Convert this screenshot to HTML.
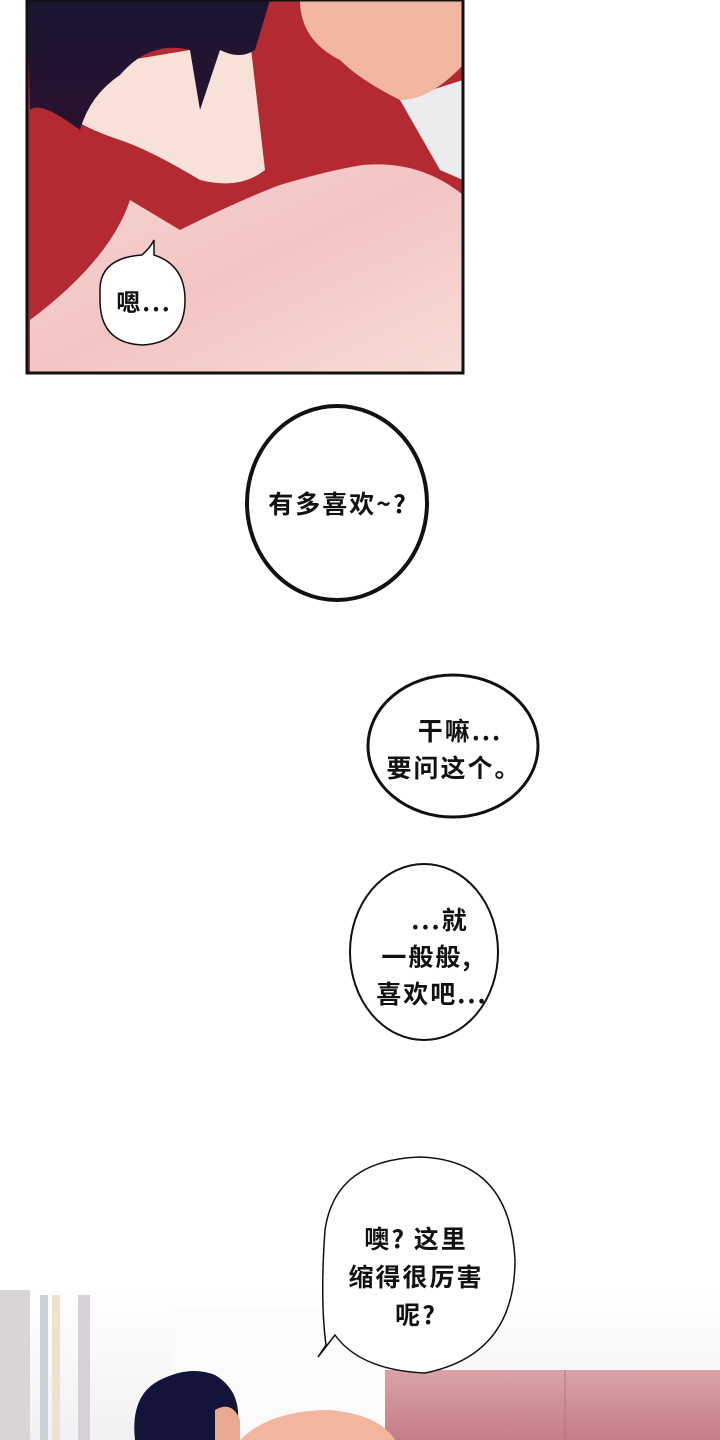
<!DOCTYPE html>
<html><head><meta charset="utf-8"><style>
body{margin:0;width:720px;height:1440px;background:#fff;overflow:hidden}
svg{display:block}
text{font-family:"Noto Sans CJK SC","Liberation Sans",sans-serif;fill:#111;font-weight:bold;letter-spacing:2px}
</style></head><body>
<svg width="720" height="1440" viewBox="0 0 720 1440">
<defs>
<linearGradient id="skin" x1="0" y1="0" x2="1" y2="1"><stop offset="0" stop-color="#f6d6d0"/><stop offset="0.5" stop-color="#f3c4c4"/><stop offset="1" stop-color="#f7dcd6"/></linearGradient>
<linearGradient id="hair" x1="0" y1="0" x2="0" y2="1"><stop offset="0" stop-color="#1a1530"/><stop offset="1" stop-color="#2a1230"/></linearGradient>
<linearGradient id="bg2" x1="0" y1="0" x2="0" y2="1"><stop offset="0" stop-color="#fff"/><stop offset="1" stop-color="#f1f0f2"/></linearGradient>
<linearGradient id="sofa" x1="0" y1="0" x2="0" y2="1"><stop offset="0" stop-color="#d9a3a8"/><stop offset="1" stop-color="#c57d87"/></linearGradient>
</defs>
<rect x="27" y="0" width="436" height="373" fill="#b42a33"/>
<path d="M400 100 L463 80 V180 L440 170 Z" fill="#ecebee"/>
<path d="M300 0 H463 V65 Q430 100 400 100 Q360 80 340 60 Q300 40 300 0 Z" fill="#f2b7a0"/>
<path d="M30 320 Q110 260 130 200 L180 230 Q240 200 280 185 Q330 170 363 165 Q420 160 463 195 V373 H30 Z" fill="url(#skin)"/>
<path d="M60 90 Q100 70 130 60 L250 40 L265 170 Q240 190 200 180 Q150 150 120 140 Q90 130 75 120 Z" fill="#f8e2d8"/>
<path d="M27 0 H270 L255 50 Q240 60 220 50 L200 110 L190 50 Q150 40 120 75 Q90 95 80 130 Q40 100 30 110 Z" fill="url(#hair)"/>
<rect x="27" y="0" width="436" height="373" fill="none" stroke="#111" stroke-width="3"/>
<path d="M100 290 Q100 258 142 255 Q150 248 154 240 L154 255 Q185 265 185 300 Q185 343 142 345 Q100 343 100 300 Z" fill="#fff" stroke="#111" stroke-width="1.5"/>
<text x="144" y="311" font-size="24" text-anchor="middle">嗯...</text>
<ellipse cx="337" cy="503" rx="90" ry="97" fill="#fff" stroke="#111" stroke-width="4"/>
<text x="338" y="513" font-size="25" text-anchor="middle">有多喜欢~?</text>
<ellipse cx="453" cy="746" rx="85" ry="71" fill="#fff" stroke="#111" stroke-width="3"/>
<text x="460" y="740" font-size="25" text-anchor="middle">干嘛...</text>
<text x="454" y="777" font-size="25" text-anchor="middle">要问这个。</text>
<ellipse cx="424" cy="952" rx="74" ry="88" fill="#fff" stroke="#111" stroke-width="2"/>
<text x="440" y="929" font-size="25" text-anchor="middle">...就</text>
<text x="427" y="966" font-size="25" text-anchor="middle">一般般,</text>
<text x="432" y="1003" font-size="25" text-anchor="middle">喜欢吧...</text>
<rect x="0" y="1290" width="720" height="150" fill="url(#bg2)"/>
<rect x="0" y="1290" width="30" height="150" fill="#d8d4d8"/>
<rect x="40" y="1295" width="8" height="145" fill="#c9d3d6"/>
<rect x="52" y="1295" width="8" height="145" fill="#efe0cf"/>
<rect x="78" y="1295" width="12" height="145" fill="#d6d1d6"/>
<rect x="170" y="1310" width="215" height="130" fill="#fbfbfc"/>
<rect x="385" y="1370" width="335" height="70" fill="url(#sofa)"/>
<line x1="565" y1="1370" x2="565" y2="1440" stroke="#b67580" stroke-width="1"/>
<path d="M240 1440 Q270 1410 330 1410 Q380 1415 395 1440 Z" fill="#f2b69e"/>
<path d="M135 1440 Q130 1395 160 1380 Q190 1365 215 1375 Q240 1390 238 1420 L230 1440 Z" fill="#14133a"/>
<path d="M215 1410 Q232 1400 240 1420 L240 1440 L215 1440 Z" fill="#e9a890"/>
<path d="M325 1230 Q335 1160 420 1157 Q510 1160 515 1260 Q515 1355 425 1373 Q360 1370 335 1335 L318 1357 L326 1345 Q320 1300 325 1230 Z" fill="#fff" stroke="#111" stroke-width="1.5"/>
<text x="416" y="1248" font-size="25" text-anchor="middle">噢? 这里</text>
<text x="416" y="1286" font-size="25" text-anchor="middle">缩得很厉害</text>
<text x="416" y="1324" font-size="25" text-anchor="middle">呢?</text>
</svg>
</body></html>
